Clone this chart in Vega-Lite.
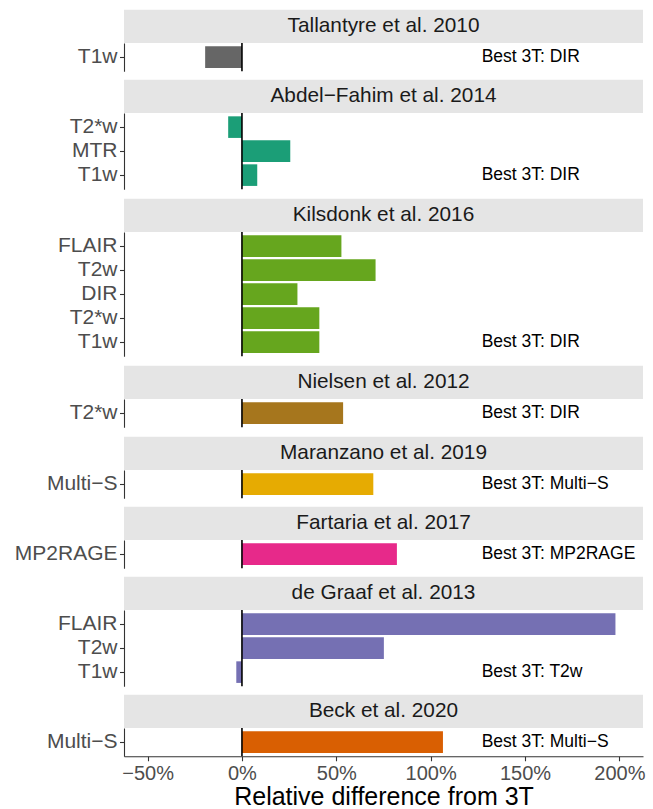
{
  "$schema": "https://vega.github.io/schema/vega-lite/v6.json",
  "padding": {"left": 5, "top": 2, "right": 10, "bottom": 0},
  "config": {
    "view": {"stroke": null},
    "font": "Liberation Sans",
    "axis": {"domainColor": "#333333", "domainWidth": 1.1, "tickColor": "#333333", "tickWidth": 1.1, "tickSize": 4.5, "labelColor": "#4D4D4D", "labelFontSize": 21, "labelPadding": 2.5, "grid": false, "titleFontWeight": "normal", "titleColor": "black", "titleFontSize": 25, "labelFlush": false},
    "axisY": {"minExtent": 119, "maxExtent": 119}
  },
  "datasets": {
    "rows": [
      {"study": "Tallantyre et al. 2010", "modality": "T1w", "value": -0.195, "note": "Best 3T: DIR"},
      {"study": "Abdel−Fahim et al. 2014", "modality": "T2*w", "value": -0.073},
      {"study": "Abdel−Fahim et al. 2014", "modality": "MTR", "value": 0.256},
      {"study": "Abdel−Fahim et al. 2014", "modality": "T1w", "value": 0.081, "note": "Best 3T: DIR"},
      {"study": "Kilsdonk et al. 2016", "modality": "FLAIR", "value": 0.527},
      {"study": "Kilsdonk et al. 2016", "modality": "T2w", "value": 0.708},
      {"study": "Kilsdonk et al. 2016", "modality": "DIR", "value": 0.294},
      {"study": "Kilsdonk et al. 2016", "modality": "T2*w", "value": 0.41},
      {"study": "Kilsdonk et al. 2016", "modality": "T1w", "value": 0.41, "note": "Best 3T: DIR"},
      {"study": "Nielsen et al. 2012", "modality": "T2*w", "value": 0.536, "note": "Best 3T: DIR"},
      {"study": "Maranzano et al. 2019", "modality": "Multi−S", "value": 0.696, "note": "Best 3T: Multi−S"},
      {"study": "Fartaria et al. 2017", "modality": "MP2RAGE", "value": 0.821, "note": "Best 3T: MP2RAGE"},
      {"study": "de Graaf et al. 2013", "modality": "FLAIR", "value": 1.979},
      {"study": "de Graaf et al. 2013", "modality": "T2w", "value": 0.752},
      {"study": "de Graaf et al. 2013", "modality": "T1w", "value": -0.03, "note": "Best 3T: T2w"},
      {"study": "Beck et al. 2020", "modality": "Multi−S", "value": 1.065, "note": "Best 3T: Multi−S"}
    ]
  },
  "data": {"name": "rows"},
  "spacing": 0,
  "bounds": "flush",
  "resolve": {"scale": {"x": "independent", "y": "independent"}},
  "vconcat": [
    {"width": 519, "height": 41, "transform": [{"filter": "datum.study === 'Tallantyre et al. 2010' && datum.note"}],
     "layer": [
      {"mark": {"type": "rect", "color": "#E5E5E5"}, "encoding": {"y": {"datum": 0, "type": "quantitative", "scale": {"domain": [0, 1.2312], "nice": false, "zero": false}, "axis": null}, "y2": {"datum": 1}}},
      {"mark": {"type": "text", "fontSize": 20.8, "color": "#1A1A1A", "baseline": "middle"}, "encoding": {"y": {"datum": 0.5, "type": "quantitative"}, "text": {"field": "study"}}}
     ]},
    {"width": 519, "height": {"step": 24}, "transform": [{"filter": "datum.study === 'Tallantyre et al. 2010'"}],
     "layer": [
      {"mark": "bar", "encoding": {
        "y": {"field": "modality", "type": "nominal", "sort": null, "scale": {"paddingInner": 0.1, "paddingOuter": 0.1385}, "axis": {"title": null}},
        "x": {"field": "value", "type": "quantitative", "scale": {"domain": [-0.625, 2.125], "nice": false, "zero": false}, "axis": null},
        "x2": {"datum": 0},
        "color": {"field": "study", "type": "nominal", "scale": {"domain": ["Tallantyre et al. 2010", "Abdel−Fahim et al. 2014", "Kilsdonk et al. 2016", "Nielsen et al. 2012", "Maranzano et al. 2019", "Fartaria et al. 2017", "de Graaf et al. 2013", "Beck et al. 2020"], "range": ["#666666", "#1B9E77", "#66A61E", "#A6761D", "#E6AB02", "#E7298A", "#7570B3", "#D95F02"]}, "legend": null}}},
      {"transform": [{"filter": "datum.note"}], "mark": {"type": "rule", "color": "black", "strokeWidth": 1.6}, "encoding": {"x": {"datum": 0}}},
      {"transform": [{"filter": "datum.note"}], "mark": {"type": "text", "align": "left", "baseline": "middle", "fontSize": 17.5, "color": "black"}, "encoding": {"x": {"datum": 1.27}, "y": {"field": "modality", "type": "nominal", "sort": null}, "text": {"field": "note"}}}
     ]},
    {"width": 519, "height": 41, "transform": [{"filter": "datum.study === 'Abdel−Fahim et al. 2014' && datum.note"}],
     "layer": [
      {"mark": {"type": "rect", "color": "#E5E5E5"}, "encoding": {"y": {"datum": 0, "type": "quantitative", "scale": {"domain": [0, 1.2312], "nice": false, "zero": false}, "axis": null}, "y2": {"datum": 1}}},
      {"mark": {"type": "text", "fontSize": 20.8, "color": "#1A1A1A", "baseline": "middle"}, "encoding": {"y": {"datum": 0.5, "type": "quantitative"}, "text": {"field": "study"}}}
     ]},
    {"width": 519, "height": {"step": 24}, "transform": [{"filter": "datum.study === 'Abdel−Fahim et al. 2014'"}],
     "layer": [
      {"mark": "bar", "encoding": {
        "y": {"field": "modality", "type": "nominal", "sort": null, "scale": {"paddingInner": 0.1, "paddingOuter": 0.1385}, "axis": {"title": null}},
        "x": {"field": "value", "type": "quantitative", "scale": {"domain": [-0.625, 2.125], "nice": false, "zero": false}, "axis": null},
        "x2": {"datum": 0},
        "color": {"field": "study", "type": "nominal", "scale": {"domain": ["Tallantyre et al. 2010", "Abdel−Fahim et al. 2014", "Kilsdonk et al. 2016", "Nielsen et al. 2012", "Maranzano et al. 2019", "Fartaria et al. 2017", "de Graaf et al. 2013", "Beck et al. 2020"], "range": ["#666666", "#1B9E77", "#66A61E", "#A6761D", "#E6AB02", "#E7298A", "#7570B3", "#D95F02"]}, "legend": null}}},
      {"transform": [{"filter": "datum.note"}], "mark": {"type": "rule", "color": "black", "strokeWidth": 1.6}, "encoding": {"x": {"datum": 0}}},
      {"transform": [{"filter": "datum.note"}], "mark": {"type": "text", "align": "left", "baseline": "middle", "fontSize": 17.5, "color": "black"}, "encoding": {"x": {"datum": 1.27}, "y": {"field": "modality", "type": "nominal", "sort": null}, "text": {"field": "note"}}}
     ]},
    {"width": 519, "height": 42, "transform": [{"filter": "datum.study === 'Kilsdonk et al. 2016' && datum.note"}],
     "layer": [
      {"mark": {"type": "rect", "color": "#E5E5E5"}, "encoding": {"y": {"datum": 0, "type": "quantitative", "scale": {"domain": [0, 1.2613], "nice": false, "zero": false}, "axis": null}, "y2": {"datum": 1}}},
      {"mark": {"type": "text", "fontSize": 20.8, "color": "#1A1A1A", "baseline": "middle"}, "encoding": {"y": {"datum": 0.5, "type": "quantitative"}, "text": {"field": "study"}}}
     ]},
    {"width": 519, "height": {"step": 24}, "transform": [{"filter": "datum.study === 'Kilsdonk et al. 2016'"}],
     "layer": [
      {"mark": "bar", "encoding": {
        "y": {"field": "modality", "type": "nominal", "sort": null, "scale": {"paddingInner": 0.1, "paddingOuter": 0.1385}, "axis": {"title": null}},
        "x": {"field": "value", "type": "quantitative", "scale": {"domain": [-0.625, 2.125], "nice": false, "zero": false}, "axis": null},
        "x2": {"datum": 0},
        "color": {"field": "study", "type": "nominal", "scale": {"domain": ["Tallantyre et al. 2010", "Abdel−Fahim et al. 2014", "Kilsdonk et al. 2016", "Nielsen et al. 2012", "Maranzano et al. 2019", "Fartaria et al. 2017", "de Graaf et al. 2013", "Beck et al. 2020"], "range": ["#666666", "#1B9E77", "#66A61E", "#A6761D", "#E6AB02", "#E7298A", "#7570B3", "#D95F02"]}, "legend": null}}},
      {"transform": [{"filter": "datum.note"}], "mark": {"type": "rule", "color": "black", "strokeWidth": 1.6}, "encoding": {"x": {"datum": 0}}},
      {"transform": [{"filter": "datum.note"}], "mark": {"type": "text", "align": "left", "baseline": "middle", "fontSize": 17.5, "color": "black"}, "encoding": {"x": {"datum": 1.27}, "y": {"field": "modality", "type": "nominal", "sort": null}, "text": {"field": "note"}}}
     ]},
    {"width": 519, "height": 42, "transform": [{"filter": "datum.study === 'Nielsen et al. 2012' && datum.note"}],
     "layer": [
      {"mark": {"type": "rect", "color": "#E5E5E5"}, "encoding": {"y": {"datum": 0, "type": "quantitative", "scale": {"domain": [0, 1.2613], "nice": false, "zero": false}, "axis": null}, "y2": {"datum": 1}}},
      {"mark": {"type": "text", "fontSize": 20.8, "color": "#1A1A1A", "baseline": "middle"}, "encoding": {"y": {"datum": 0.5, "type": "quantitative"}, "text": {"field": "study"}}}
     ]},
    {"width": 519, "height": {"step": 24}, "transform": [{"filter": "datum.study === 'Nielsen et al. 2012'"}],
     "layer": [
      {"mark": "bar", "encoding": {
        "y": {"field": "modality", "type": "nominal", "sort": null, "scale": {"paddingInner": 0.1, "paddingOuter": 0.1385}, "axis": {"title": null}},
        "x": {"field": "value", "type": "quantitative", "scale": {"domain": [-0.625, 2.125], "nice": false, "zero": false}, "axis": null},
        "x2": {"datum": 0},
        "color": {"field": "study", "type": "nominal", "scale": {"domain": ["Tallantyre et al. 2010", "Abdel−Fahim et al. 2014", "Kilsdonk et al. 2016", "Nielsen et al. 2012", "Maranzano et al. 2019", "Fartaria et al. 2017", "de Graaf et al. 2013", "Beck et al. 2020"], "range": ["#666666", "#1B9E77", "#66A61E", "#A6761D", "#E6AB02", "#E7298A", "#7570B3", "#D95F02"]}, "legend": null}}},
      {"transform": [{"filter": "datum.note"}], "mark": {"type": "rule", "color": "black", "strokeWidth": 1.6}, "encoding": {"x": {"datum": 0}}},
      {"transform": [{"filter": "datum.note"}], "mark": {"type": "text", "align": "left", "baseline": "middle", "fontSize": 17.5, "color": "black"}, "encoding": {"x": {"datum": 1.27}, "y": {"field": "modality", "type": "nominal", "sort": null}, "text": {"field": "note"}}}
     ]},
    {"width": 519, "height": 42, "transform": [{"filter": "datum.study === 'Maranzano et al. 2019' && datum.note"}],
     "layer": [
      {"mark": {"type": "rect", "color": "#E5E5E5"}, "encoding": {"y": {"datum": 0, "type": "quantitative", "scale": {"domain": [0, 1.2613], "nice": false, "zero": false}, "axis": null}, "y2": {"datum": 1}}},
      {"mark": {"type": "text", "fontSize": 20.8, "color": "#1A1A1A", "baseline": "middle"}, "encoding": {"y": {"datum": 0.5, "type": "quantitative"}, "text": {"field": "study"}}}
     ]},
    {"width": 519, "height": {"step": 24}, "transform": [{"filter": "datum.study === 'Maranzano et al. 2019'"}],
     "layer": [
      {"mark": "bar", "encoding": {
        "y": {"field": "modality", "type": "nominal", "sort": null, "scale": {"paddingInner": 0.1, "paddingOuter": 0.1385}, "axis": {"title": null}},
        "x": {"field": "value", "type": "quantitative", "scale": {"domain": [-0.625, 2.125], "nice": false, "zero": false}, "axis": null},
        "x2": {"datum": 0},
        "color": {"field": "study", "type": "nominal", "scale": {"domain": ["Tallantyre et al. 2010", "Abdel−Fahim et al. 2014", "Kilsdonk et al. 2016", "Nielsen et al. 2012", "Maranzano et al. 2019", "Fartaria et al. 2017", "de Graaf et al. 2013", "Beck et al. 2020"], "range": ["#666666", "#1B9E77", "#66A61E", "#A6761D", "#E6AB02", "#E7298A", "#7570B3", "#D95F02"]}, "legend": null}}},
      {"transform": [{"filter": "datum.note"}], "mark": {"type": "rule", "color": "black", "strokeWidth": 1.6}, "encoding": {"x": {"datum": 0}}},
      {"transform": [{"filter": "datum.note"}], "mark": {"type": "text", "align": "left", "baseline": "middle", "fontSize": 17.5, "color": "black"}, "encoding": {"x": {"datum": 1.27}, "y": {"field": "modality", "type": "nominal", "sort": null}, "text": {"field": "note"}}}
     ]},
    {"width": 519, "height": 41, "transform": [{"filter": "datum.study === 'Fartaria et al. 2017' && datum.note"}],
     "layer": [
      {"mark": {"type": "rect", "color": "#E5E5E5"}, "encoding": {"y": {"datum": 0, "type": "quantitative", "scale": {"domain": [0, 1.2312], "nice": false, "zero": false}, "axis": null}, "y2": {"datum": 1}}},
      {"mark": {"type": "text", "fontSize": 20.8, "color": "#1A1A1A", "baseline": "middle"}, "encoding": {"y": {"datum": 0.5, "type": "quantitative"}, "text": {"field": "study"}}}
     ]},
    {"width": 519, "height": {"step": 24}, "transform": [{"filter": "datum.study === 'Fartaria et al. 2017'"}],
     "layer": [
      {"mark": "bar", "encoding": {
        "y": {"field": "modality", "type": "nominal", "sort": null, "scale": {"paddingInner": 0.1, "paddingOuter": 0.1385}, "axis": {"title": null}},
        "x": {"field": "value", "type": "quantitative", "scale": {"domain": [-0.625, 2.125], "nice": false, "zero": false}, "axis": null},
        "x2": {"datum": 0},
        "color": {"field": "study", "type": "nominal", "scale": {"domain": ["Tallantyre et al. 2010", "Abdel−Fahim et al. 2014", "Kilsdonk et al. 2016", "Nielsen et al. 2012", "Maranzano et al. 2019", "Fartaria et al. 2017", "de Graaf et al. 2013", "Beck et al. 2020"], "range": ["#666666", "#1B9E77", "#66A61E", "#A6761D", "#E6AB02", "#E7298A", "#7570B3", "#D95F02"]}, "legend": null}}},
      {"transform": [{"filter": "datum.note"}], "mark": {"type": "rule", "color": "black", "strokeWidth": 1.6}, "encoding": {"x": {"datum": 0}}},
      {"transform": [{"filter": "datum.note"}], "mark": {"type": "text", "align": "left", "baseline": "middle", "fontSize": 17.5, "color": "black"}, "encoding": {"x": {"datum": 1.27}, "y": {"field": "modality", "type": "nominal", "sort": null}, "text": {"field": "note"}}}
     ]},
    {"width": 519, "height": 41, "transform": [{"filter": "datum.study === 'de Graaf et al. 2013' && datum.note"}],
     "layer": [
      {"mark": {"type": "rect", "color": "#E5E5E5"}, "encoding": {"y": {"datum": 0, "type": "quantitative", "scale": {"domain": [0, 1.2312], "nice": false, "zero": false}, "axis": null}, "y2": {"datum": 1}}},
      {"mark": {"type": "text", "fontSize": 20.8, "color": "#1A1A1A", "baseline": "middle"}, "encoding": {"y": {"datum": 0.5, "type": "quantitative"}, "text": {"field": "study"}}}
     ]},
    {"width": 519, "height": {"step": 24}, "transform": [{"filter": "datum.study === 'de Graaf et al. 2013'"}],
     "layer": [
      {"mark": "bar", "encoding": {
        "y": {"field": "modality", "type": "nominal", "sort": null, "scale": {"paddingInner": 0.1, "paddingOuter": 0.1385}, "axis": {"title": null}},
        "x": {"field": "value", "type": "quantitative", "scale": {"domain": [-0.625, 2.125], "nice": false, "zero": false}, "axis": null},
        "x2": {"datum": 0},
        "color": {"field": "study", "type": "nominal", "scale": {"domain": ["Tallantyre et al. 2010", "Abdel−Fahim et al. 2014", "Kilsdonk et al. 2016", "Nielsen et al. 2012", "Maranzano et al. 2019", "Fartaria et al. 2017", "de Graaf et al. 2013", "Beck et al. 2020"], "range": ["#666666", "#1B9E77", "#66A61E", "#A6761D", "#E6AB02", "#E7298A", "#7570B3", "#D95F02"]}, "legend": null}}},
      {"transform": [{"filter": "datum.note"}], "mark": {"type": "rule", "color": "black", "strokeWidth": 1.6}, "encoding": {"x": {"datum": 0}}},
      {"transform": [{"filter": "datum.note"}], "mark": {"type": "text", "align": "left", "baseline": "middle", "fontSize": 17.5, "color": "black"}, "encoding": {"x": {"datum": 1.27}, "y": {"field": "modality", "type": "nominal", "sort": null}, "text": {"field": "note"}}}
     ]},
    {"width": 519, "height": 41, "transform": [{"filter": "datum.study === 'Beck et al. 2020' && datum.note"}],
     "layer": [
      {"mark": {"type": "rect", "color": "#E5E5E5"}, "encoding": {"y": {"datum": 0, "type": "quantitative", "scale": {"domain": [0, 1.2312], "nice": false, "zero": false}, "axis": null}, "y2": {"datum": 1}}},
      {"mark": {"type": "text", "fontSize": 20.8, "color": "#1A1A1A", "baseline": "middle"}, "encoding": {"y": {"datum": 0.5, "type": "quantitative"}, "text": {"field": "study"}}}
     ]},
    {"width": 519, "height": {"step": 24}, "transform": [{"filter": "datum.study === 'Beck et al. 2020'"}],
     "layer": [
      {"mark": "bar", "encoding": {
        "y": {"field": "modality", "type": "nominal", "sort": null, "scale": {"paddingInner": 0.1, "paddingOuter": 0.1385}, "axis": {"title": null}},
        "x": {"field": "value", "type": "quantitative", "scale": {"domain": [-0.625, 2.125], "nice": false, "zero": false}, "axis": {"title": "Relative difference from 3T", "values": [-0.5, 0, 0.5, 1, 1.5, 2], "format": ".0%", "labelFontSize": 20, "titlePadding": 1}},
        "x2": {"datum": 0},
        "color": {"field": "study", "type": "nominal", "scale": {"domain": ["Tallantyre et al. 2010", "Abdel−Fahim et al. 2014", "Kilsdonk et al. 2016", "Nielsen et al. 2012", "Maranzano et al. 2019", "Fartaria et al. 2017", "de Graaf et al. 2013", "Beck et al. 2020"], "range": ["#666666", "#1B9E77", "#66A61E", "#A6761D", "#E6AB02", "#E7298A", "#7570B3", "#D95F02"]}, "legend": null}}},
      {"transform": [{"filter": "datum.note"}], "mark": {"type": "rule", "color": "black", "strokeWidth": 1.6}, "encoding": {"x": {"datum": 0}}},
      {"transform": [{"filter": "datum.note"}], "mark": {"type": "text", "align": "left", "baseline": "middle", "fontSize": 17.5, "color": "black"}, "encoding": {"x": {"datum": 1.27}, "y": {"field": "modality", "type": "nominal", "sort": null}, "text": {"field": "note"}}}
     ]}
  ]
}
